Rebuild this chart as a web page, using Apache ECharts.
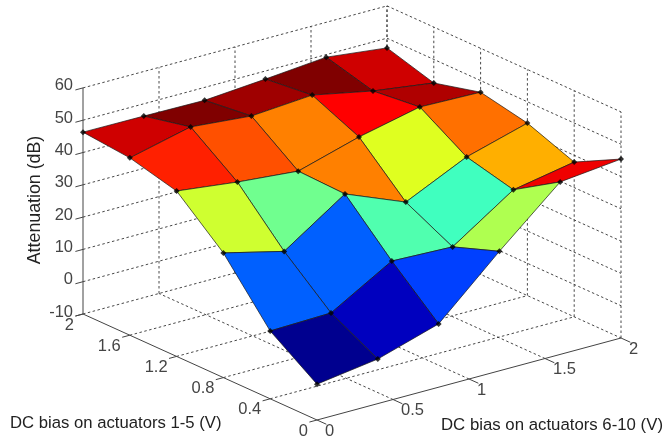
<!DOCTYPE html>
<html><head><meta charset="utf-8">
<style>html,body{margin:0;padding:0;background:#fff}#c{width:666px;height:436px}</style>
<script src="https://cdn.jsdelivr.net/npm/echarts@6/dist/echarts.min.js"></script>
</head><body><div id="c"></div>
<script>
const xTicks=[0,0.5,1,1.5,2];
const yTicks=[0,0.4,0.8,1.2,1.6,2];
const zTicks=[-10,0,10,20,30,40,50,60];
const xNodes=[0,0.4,0.8,1.2,1.6,2];
const yNodes=[0,0.4,0.8,1.2,1.6,2];
const zY00=[1.1,3.8,9.6,27,43.4,45.4];
const zY04=[11,11.5,22.5,21.8,34.4,37.9];
const zY08=[28.6,24,36.7,29.1,38,43.4];
const zY12=[41.2,38.9,37.2,42.7,46.9,46.4];
const zY16=[44.9,49.4,47.7,49.1,45.3,42.7];
const zY20=[46.3,46.2,46,47.5,49.2,47];
const zRows=[zY00,zY04,zY08,zY12,zY16,zY20];
const xTitle='DC bias on actuators 6-10 (V)';
const yTitle='DC bias on actuators 1-5 (V)';
const zTitle='Attenuation (dB)';

const FONT='"Liberation Sans",Arial,sans-serif';
function project(x,y,z){return [317+152*x-117*y, 420-41*x-53*y-3.23*(z+10)];}
const zFlat=zRows.flat();
const zMin=Math.min(...zFlat), zMax=Math.max(...zFlat);
function jet(v){
  const idx=Math.min(63,Math.floor((v-zMin)/(zMax-zMin)*64));
  const t=(idx+1)/64;
  const c=s=>Math.round(255*Math.max(0,Math.min(1,1.5-Math.abs(4*t-s))));
  return 'rgb('+c(3)+','+c(2)+','+c(1)+')';
}
const X0=0,X1=2,Y0=0,Y1=2,Z0=-10,Z1=60;
const dashed=[],solid=[],ticks=[];
zTicks.forEach(z=>{dashed.push([X0,Y1,z,X1,Y1,z],[X1,Y1,z,X1,Y0,z]);});
xTicks.slice(1).forEach(x=>{dashed.push([x,Y1,Z0,x,Y1,Z1]);});
yTicks.forEach(y=>{dashed.push([X1,y,Z0,X1,y,Z1]);});
xTicks.slice(1,-1).forEach(x=>{dashed.push([x,Y0,Z0,x,Y1,Z0]);});
yTicks.slice(1,-1).forEach(y=>{dashed.push([X0,y,Z0,X1,y,Z0]);});
solid.push([X0,Y1,Z0,X0,Y1,Z1],[X0,Y1,Z0,X0,Y0,Z0],[X0,Y0,Z0,X1,Y0,Z0]);
zTicks.forEach(z=>ticks.push([X0,Y1,z,-0.05,Y1,z]));
xTicks.forEach(x=>ticks.push([x,Y0,Z0,x,-0.08,Z0]));
yTicks.forEach(y=>ticks.push([X0,y,Z0,-0.05,y,Z0]));

const faces=[];
for(let j=yNodes.length-2;j>=0;j--)for(let i=xNodes.length-2;i>=0;i--)faces.push([i,j]);
const nodes=[];
yNodes.forEach((y,j)=>xNodes.forEach((x,i)=>nodes.push(project(x,y,zRows[j][i]))));

const texts=[];
zTicks.forEach(z=>{const p=project(X0,Y1,z);texts.push({u:p[0]-10,v:p[1]-2,s:String(z),a:'right',f:16.5,c:'#444'});});
yTicks.forEach(y=>{const p=project(X0,y,Z0);texts.push({u:p[0]-9,v:p[1]+11,s:String(y),a:'right',f:16.5,c:'#444'});});
xTicks.forEach(x=>{const p=project(x,Y0,Z0);texts.push({u:p[0]+8,v:p[1]+11,s:String(x),a:'left',f:16.5,c:'#444'});});
texts.push({u:10,v:423,s:yTitle,a:'left',f:16.7,c:'#222'});
texts.push({u:441,v:425,s:xTitle,a:'left',f:16.8,c:'#222'});
texts.push({u:35,v:200,s:zTitle,a:'center',f:17.8,c:'#222',r:Math.PI/2});

function lineRender(style){
  return function(params,api){
    const a=api.coord(project(api.value(0),api.value(1),api.value(2)));
    const b=api.coord(project(api.value(3),api.value(4),api.value(5)));
    return {type:'line',shape:{x1:a[0],y1:a[1],x2:b[0],y2:b[1]},style:style};
  };
}
const chart=echarts.init(document.getElementById('c'),null,{renderer:'canvas'});
chart.setOption({
  animation:false,
  backgroundColor:'#fff',
  grid:{left:0,right:0,top:0,bottom:0},
  xAxis:{type:'value',min:0,max:666,show:false},
  yAxis:{type:'value',min:0,max:436,inverse:true,show:false},
  tooltip:{show:false},
  series:[
    {type:'custom',coordinateSystem:'cartesian2d',clip:false,silent:true,z:1,data:dashed,
     renderItem:lineRender({stroke:'#333',lineWidth:0.9,lineDash:[2.5,2.5],fill:null})},
    {type:'custom',coordinateSystem:'cartesian2d',clip:false,silent:true,z:2,data:solid,
     renderItem:lineRender({stroke:'#444',lineWidth:1,fill:null})},
    {type:'custom',coordinateSystem:'cartesian2d',clip:false,silent:true,z:2,data:ticks,
     renderItem:lineRender({stroke:'#444',lineWidth:1,fill:null})},
    {type:'custom',coordinateSystem:'cartesian2d',clip:false,silent:true,z:3,data:faces,
     renderItem:function(params,api){
       const i=api.value(0),j=api.value(1);
       const pts=[[i,j],[i+1,j],[i+1,j+1],[i,j+1]].map(q=>api.coord(project(xNodes[q[0]],yNodes[q[1]],zRows[q[1]][q[0]])));
       return {type:'polygon',shape:{points:pts},style:{fill:jet(zRows[j][i]),stroke:'#1a1a1a',lineWidth:0.7}};
     }},
    {type:'scatter',coordinateSystem:'cartesian2d',silent:true,z:4,symbol:'diamond',symbolSize:6,
     itemStyle:{color:'#000'},data:nodes},
    {type:'custom',coordinateSystem:'cartesian2d',clip:false,silent:true,z:5,data:texts.map((t,k)=>[k]),
     renderItem:function(params,api){
       const t=texts[api.value(0)];
       const p=api.coord([t.u,t.v]);
       return {type:'text',x:p[0],y:p[1],rotation:t.r||0,
         style:{text:t.s,fill:t.c,font:t.f+'px '+FONT,textAlign:t.a,textVerticalAlign:'middle'}};
     }}
  ]
});
</script></body></html>
